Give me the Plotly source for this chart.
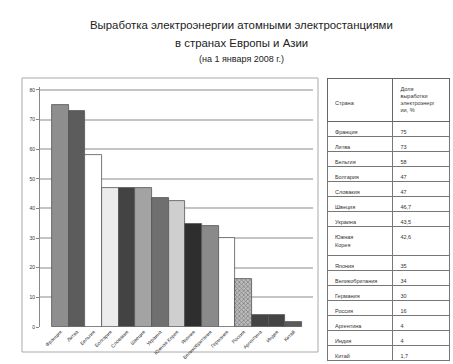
import plotly.graph_objects as go

countries = ["Франция", "Литва", "Бельгия", "Болгария", "Словакия", "Швеция", "Украина",
             "Южная Корея", "Япония", "Великобритания", "Германия", "Россия",
             "Аргентина", "Индия", "Китай"]
shares = [75, 73, 58, 47, 47, 47, 43.5, 42.6, 34.8, 34.1, 30, 16.2, 4, 4, 1.7]
share_labels = ["75", "73", "58", "47", "47", "46,7", "43,5", "42,6", "35", "34",
                "30", "16", "4", "4", "1,7"]
bar_colors = ["#8e8e8e", "#5c5c5c", "#ffffff", "#ececec", "#434343", "#a3a3a3", "#6f6f6f",
              "#cfcfcf", "#2e2e2e", "#8a8a8a", "#ffffff", "#bdbdbd", "#444444", "#444444", "#5a5a5a"]
patterns = ["", "", "", "", "", "", "", "", "", "", "", "x", "", "", ""]
y_ticks = [0, 10, 20, 30, 40, 50, 60, 70, 80]
title_lines = ["Выработка электроэнергии атомными электростанциями",
               "в странах Европы и Азии",
               "(на 1 января 2008 г.)"]
table_header = ["\u00a0<br>\u00a0<br>Страна", "Доля<br>выработки<br>электроэнерг<br>ии, %"]

FONT = "Liberation Sans"
W, H = 453, 364
PX0, PX1, PY0, PY1 = 40, 313, 87, 327  # plot area in pixels (left, right, top, bottom)


def px(x):
    return x / W


def py(y):
    return 1 - y / H


fig = go.Figure()
fig.add_trace(go.Bar(
    x=list(range(len(countries))), y=shares,
    marker=dict(color=bar_colors, line=dict(color="#555555", width=0.8),
                pattern=dict(shape=patterns, size=3, solidity=0.45, fgcolor="#555555")),
    width=1.0, showlegend=False, hoverinfo="skip",
))

table_names = [c.replace(" ", "<br>") for c in countries]
fig.add_trace(go.Table(
    domain=dict(x=[px(327), px(450)], y=[0, py(78)]),
    columnwidth=[66, 57],
    header=dict(values=table_header, height=42, align="left",
                fill_color="white", line=dict(color="#666666", width=1),
                font=dict(family=FONT, size=5.5, color="#333333")),
    cells=dict(values=[table_names, share_labels], height=15, align="left",
               fill_color="white", line=dict(color="#777777", width=1),
               font=dict(family=FONT, size=5.5, color="#333333")),
))

fig.update_layout(
    width=W, height=H,
    margin=dict(l=0, r=0, t=0, b=0),
    paper_bgcolor="white", plot_bgcolor="white",
    font=dict(family=FONT, color="#333333"),
    bargap=0,
    xaxis=dict(domain=[px(PX0), px(PX1)], automargin=False,
               range=[-1.22, 15.16], tickmode="array", tickvals=list(range(len(countries))),
               ticktext=countries, tickangle=-45, tickfont=dict(size=5, color="#333333"),
               showgrid=False, zeroline=False, showline=False, ticks=""),
    yaxis=dict(domain=[py(PY1), py(PY0)], automargin=False,
               range=[0, 81], tickmode="array", tickvals=y_ticks,
               tickfont=dict(size=5, color="#333333"), showgrid=True,
               gridcolor="#c4c4c4", gridwidth=1.5, zeroline=False,
               showline=True, linecolor="#888888", linewidth=1, ticks="outside",
               ticklen=3, tickcolor="#888888"),
)

fig.add_shape(type="rect", xref="paper", yref="paper",
              x0=px(22), x1=px(318), y0=py(352), y1=py(78),
              line=dict(color="#aaaaaa", width=1), layer="below")

for txt, y, sz in zip(title_lines, [25, 43, 59], [11.4, 11.4, 9]):
    fig.add_annotation(text=txt, xref="paper", yref="paper",
                       x=px(242), y=py(y),
                       showarrow=False, xanchor="center", yanchor="middle",
                       font=dict(family=FONT, size=sz, color="#222222"))

fig.write_html("out.html")
